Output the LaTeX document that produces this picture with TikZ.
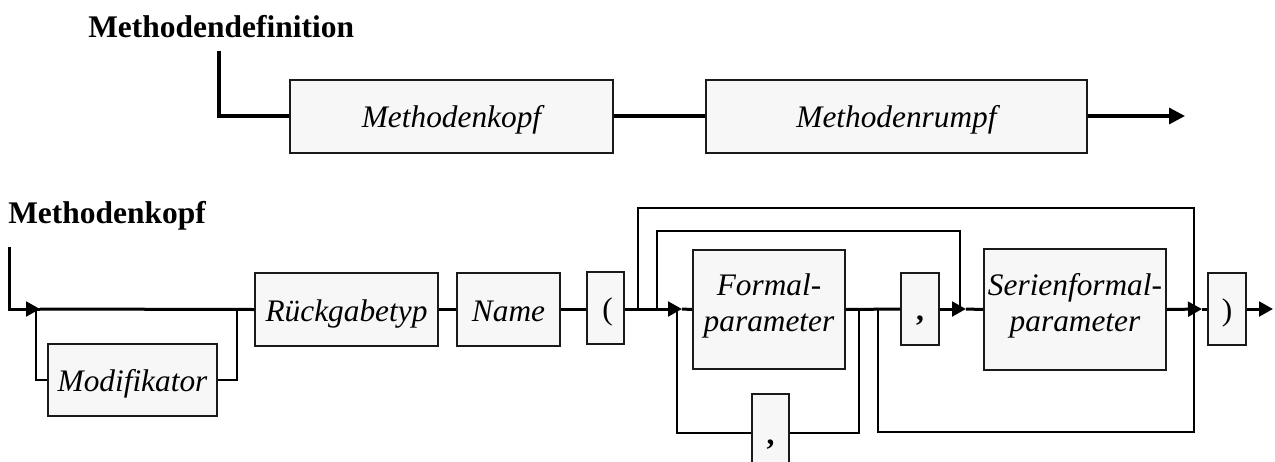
\documentclass[tikz,border=0pt]{standalone}
\usepackage{fontspec}
\setmainfont{Liberation Serif}
\usetikzlibrary{arrows.meta}
\definecolor{boxfill}{HTML}{F7F7F7}
\definecolor{boxline}{HTML}{1A1A1A}
\begin{document}
\begin{tikzpicture}[x=0.75pt,y=-0.75pt,
  box/.style 2 args={draw=boxline, line width=1.5pt, fill=boxfill, inner sep=0pt,
    minimum width=#1*0.75pt, minimum height=#2*0.75pt,
    font=\fontsize{23.5}{27}\selectfont\itshape, text height=17.3pt, text depth=0pt},
  twoline/.style={text height=, text depth=, align=center},
  title/.style={anchor=base west, inner sep=0pt, font=\fontsize{23.6}{27}\selectfont\bfseries},
  topln/.style={line width=2.5pt},
  mainln/.style={line width=2.25pt},
  thinln/.style={line width=1.5pt},
  bigtip/.style={-{Triangle[length=12pt 0 0,width=12pt 0 0]}},
  tip/.style={-{Triangle[length=10.5pt 0 0,width=11pt 0 0]}},
]
\clip (0,0) rectangle (1275,461);
\fill[white] (0,0) rectangle (1275,461);

% ---------- Methodendefinition ----------
\node[title] (t1) at (88,37) {Methodendefinition};
\coordinate (s1) at (219,51);
\node[box={323}{73}] (mk) at (451.5,116) {Methodenkopf};
\node[box={381}{73}] (mr) at (896.5,116) {Methodenrumpf};
\coordinate (e1) at (1185,116);
\draw[topln] (s1) |- (mk.west);
\draw[topln] (mk.east) -- (mr.west);
\draw[topln,bigtip] (mr.east) -- (e1);

% ---------- Methodenkopf ----------
\node[title] (t2) at (8,223) {Methodenkopf};
\coordinate (s2) at (9,247);
\coordinate (a1) at (40,309);
\coordinate (m1) at (36,309);
\coordinate (m2) at (237,309);
\node[box={169}{72}] (mod) at (132.5,380) {Modifikator};
\node[box={183}{73}] (rt) at (346.5,309.5) {Rückgabetyp};
\node[box={103}{73}] (nm) at (508.5,309.5) {Name};
\node[box={37}{72}] (lp) at (605.5,308) {\upshape\hspace{3pt}(};
\node[box={152}{119},twoline] (fp) at (769,309.5)
  {Formal-\rule{0pt}{18pt}\\parameter\rule[-12pt]{0pt}{12pt}};
\node[box={38}{72}] (c1) at (920,309) {\upshape\bfseries ,};
\node[box={37}{78}] (c2) at (770.5,433) {\upshape\bfseries ,};
\node[box={182}{121},twoline] (sfp) at (1075,309.5)
  {Serienformal-\rule{0pt}{18pt}\\parameter\rule[-12pt]{0pt}{12pt}};
\node[box={38}{72}] (rp) at (1227,309) {\upshape )};
\coordinate (e2) at (1273,309);

\coordinate (a2) at (682,309);
\coordinate (a3) at (966,309);
\coordinate (a4) at (1202,309);
\coordinate (o1) at (638,309);
\coordinate (otr) at (1194,208);
\coordinate (obr) at (1194,432);
\coordinate (b1) at (878,309);
\coordinate (i1) at (657,309);
\coordinate (itr) at (960,231);
\coordinate (f1) at (859,309);
\coordinate (f2) at (677,309);

% main line
\draw[mainln] (s2) |- (a1);
\draw[mainln,tip] (s2 |- a1) -- (a1);
\draw[mainln] (a1) -- (rt.west);
\draw[mainln] (rt.east) -- (nm.west);
\draw[mainln] (nm.east) -- (lp.west |- nm.east);
\draw[mainln,tip] (lp.east |- a2) -- (a2);
\draw[mainln] (a2) -- (fp.west);
\draw[mainln] (fp.east) -- (c1.west);
\draw[mainln,tip] (c1.east) -- (a3);
\draw[mainln] (a3) -- (sfp.west);
\draw[mainln,tip] (sfp.east) -- (a4);
\draw[mainln] (a4) -- (rp.west);
\draw[mainln,tip] (rp.east) -- (e2);

% Modifikator bypass
\draw[thinln] (m1) |- (mod.west);
\draw[thinln] (mod.east) -| (m2);

% loops
\draw[thinln] (o1) |- (otr) -- (obr) -| (b1);
\draw[thinln] (i1) |- (itr) -- (itr |- a3);
\draw[thinln] (f1) |- (c2.east);
\draw[thinln] (c2.west) -| (f2);
\end{tikzpicture}
\end{document}
